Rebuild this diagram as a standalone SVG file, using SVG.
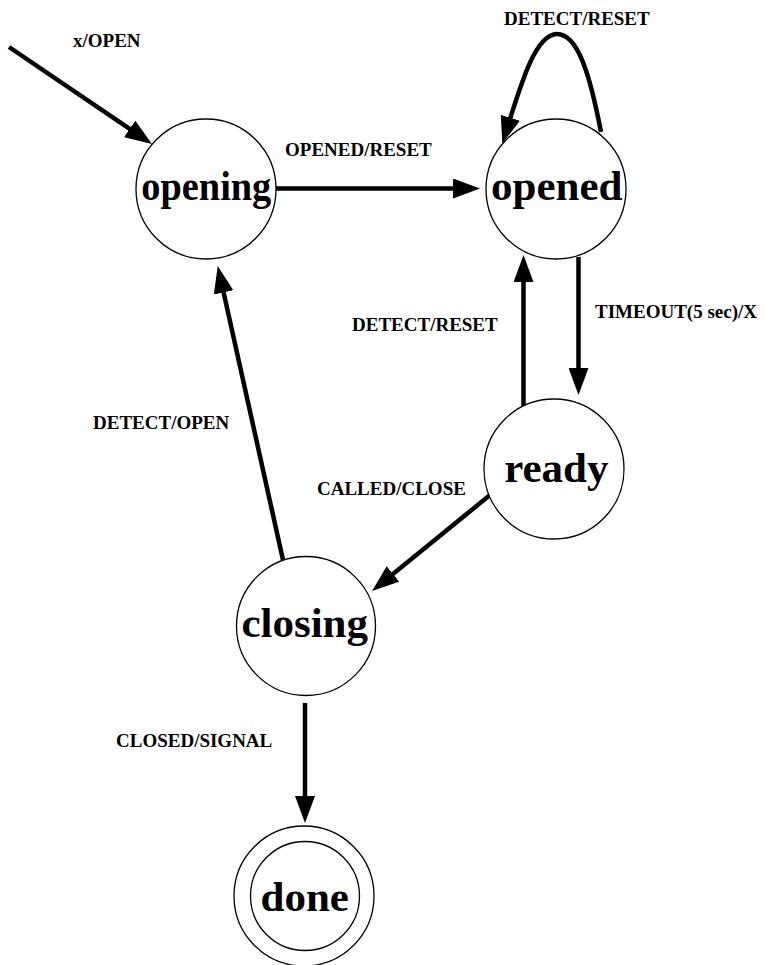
<svg xmlns="http://www.w3.org/2000/svg" width="765" height="965" viewBox="0 0 765 965">
<style>
.state{fill:#fff;stroke:#000;stroke-width:1.3}
.name{font-family:"Liberation Serif","Times New Roman",serif;font-weight:bold;font-size:43px;text-anchor:middle;fill:#000}
.lbl{font-family:"Liberation Serif","Times New Roman",serif;font-weight:bold;font-size:19px;fill:#000}
.edge{fill:none;stroke:#000;stroke-width:4.5}
</style>
<defs>
<marker id="ah" viewBox="0 0 27 20" markerWidth="27" markerHeight="20" markerUnits="userSpaceOnUse" refX="17" refY="10" orient="auto">
<path d="M0,0 L27,10 L0,20 z" fill="#000"/>
</marker>
</defs>
<rect width="765" height="965" fill="#fff"/>
<g id="connectors">
<path class="edge" marker-end="url(#ah)" d="M9,47 L143.7,138.4"/>
<path class="edge" marker-end="url(#ah)" d="M276,188.5 L470,188.5"/>
<path class="edge" marker-end="url(#ah)" d="M601,132 C590,75 578,34 557,34 C536,34 522,80 505.3,134"/>
<path class="edge" marker-end="url(#ah)" d="M578.5,257 L578.5,385"/>
<path class="edge" marker-end="url(#ah)" d="M523.5,406 L523.5,265"/>
<path class="edge" marker-end="url(#ah)" d="M490,495 L379.8,584.7"/>
<path class="edge" marker-end="url(#ah)" d="M283,560 L219.9,275.8"/>
<path class="edge" marker-end="url(#ah)" d="M305,703 L305,813"/>
<text class="lbl" x="73" y="47">x/OPEN</text>
<text class="lbl" x="504" y="25">DETECT/RESET</text>
<text class="lbl" x="285" y="156">OPENED/RESET</text>
<text class="lbl" x="595" y="318">TIMEOUT(5 sec)/X</text>
<text class="lbl" x="352" y="331">DETECT/RESET</text>
<text class="lbl" x="317" y="495">CALLED/CLOSE</text>
<text class="lbl" x="93" y="429">DETECT/OPEN</text>
<text class="lbl" x="116" y="747">CLOSED/SIGNAL</text>
</g>
<g id="opening">
<circle class="state" cx="206" cy="189" r="70"/>
<text class="name" x="206.3" y="200" textLength="130" lengthAdjust="spacingAndGlyphs">opening</text>
</g>
<g id="opened">
<circle class="state" cx="556" cy="189" r="70"/>
<text class="name" x="556.7" y="199.5">opened</text>
</g>
<g id="ready">
<circle class="state" cx="554" cy="469" r="70"/>
<text class="name" x="556.3" y="481.5">ready</text>
</g>
<g id="closing">
<circle class="state" cx="306" cy="626" r="69.5"/>
<text class="name" x="304.7" y="636.5">closing</text>
</g>
<g id="done">
<circle class="state" cx="304" cy="896" r="70"/>
<circle class="state" cx="305" cy="896" r="54.5"/>
<text class="name" x="304.7" y="910.5">done</text>
</g>
</svg>
